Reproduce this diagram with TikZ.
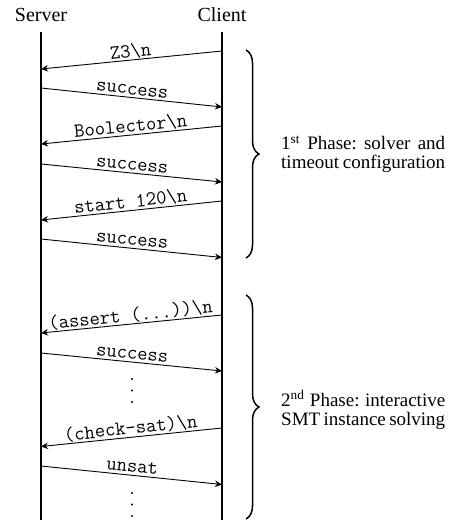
\documentclass[tikz,border=0pt]{standalone}
\usepackage{fontspec}
\setmainfont{Liberation Serif}
\usetikzlibrary{arrows.meta,decorations.pathreplacing}
\frenchspacing
\begin{document}
\begin{tikzpicture}[x=1pt,y=-1pt,
  life/.style={line width=1.6pt},
  msg/.style={line width=0.9pt,-{Stealth[length=7pt,width=6.5pt,inset=2.2pt]}},
  lbl/.style={midway,sloped,above=2.5pt,inner sep=0pt,text depth=0pt,font=\fontsize{20}{20}\selectfont\ttfamily},
  head/.style={font=\fontsize{20}{20}\selectfont,anchor=base,inner sep=0pt},
  phase/.style={font=\fontsize{19}{19}\selectfont,anchor=west,align=left,inner sep=0pt},
  brc/.style={line width=1.5pt,decorate,decoration={brace,amplitude=13pt}},
  dot/.style={fill=black}
]
\useasboundingbox (0,0) rectangle (454,520);
\node[head] (srv) at (41,21) {Server};
\node[head] (cli) at (222,21) {Client};
\coordinate (sTop) at (41,32); \coordinate (sBot) at (41,530);
\coordinate (cTop) at (222,32); \coordinate (cBot) at (222,530);
\draw[life] (sTop) -- (sBot);
\draw[life] (cTop) -- (cBot);
% message endpoints
\coordinate (c1) at (222,51);  \coordinate (s1) at (41,69);
\coordinate (s2) at (41,88);   \coordinate (c2) at (222,107);
\coordinate (c3) at (222,126); \coordinate (s3) at (41,144);
\coordinate (s4) at (41,164);  \coordinate (c4) at (222,182);
\coordinate (c5) at (222,201); \coordinate (s5) at (41,220);
\coordinate (s6) at (41,239);  \coordinate (c6) at (222,257.5);
\coordinate (c7) at (222,315); \coordinate (s7) at (41,333);
\coordinate (s8) at (41,353);  \coordinate (c8) at (222,371);
\coordinate (c9) at (222,428); \coordinate (s9) at (41,446.5);
\coordinate (s10) at (41,466); \coordinate (c10) at (222,484.5);
\draw[msg] (c1) -- node[lbl] {Z3\textbackslash{}n} (s1);
\draw[msg] (s2) -- node[lbl] {success} (c2);
\draw[msg] (c3) -- node[lbl] {Boolector\textbackslash{}n} (s3);
\draw[msg] (s4) -- node[lbl] {success} (c4);
\draw[msg] (c5) -- node[lbl] {start 120\textbackslash{}n} (s5);
\draw[msg] (s6) -- node[lbl] {success} (c6);
\draw[msg] (c7) -- node[lbl] {(assert (...))\textbackslash{}n} (s7);
\draw[msg] (s8) -- node[lbl] {success} (c8);
\draw[msg] (c9) -- node[lbl] {(check-sat)\textbackslash{}n} (s9);
\draw[msg] (s10) -- node[lbl] {unsat} (c10);
% vertical dots
\foreach \y in {379,390.5,402,493,504.5,516} \fill[dot] (132,\y) circle (1.1);
% braces
\coordinate (b1a) at (246,50); \coordinate (b1b) at (246,258);
\coordinate (b2a) at (246,295); \coordinate (b2b) at (246,519);
\draw[brc] (b1a) -- (b1b);
\draw[brc] (b2a) -- (b2b);
\node[phase] (p1) at (281,154) {\makebox[164pt][s]{1\textsuperscript{st} Phase: solver and}\\\makebox[164pt][s]{timeout configuration}};
\node[phase] (p2) at (281,410) {\makebox[164pt][s]{2\textsuperscript{nd} Phase: interactive}\\\makebox[164pt][s]{SMT instance solving}};
\end{tikzpicture}
\end{document}
